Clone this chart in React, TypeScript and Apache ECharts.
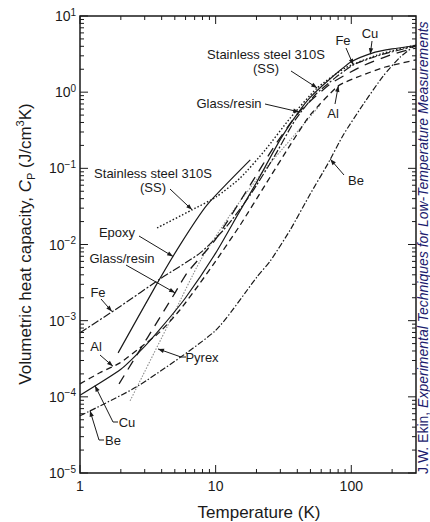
import React, { useEffect, useRef } from "react";
import * as echarts from "echarts";

const FONT = "'Liberation Sans', Arial, Helvetica, sans-serif";
const INK = "#1a1a1a";

// axis ranges
const X_MIN = 1;
const X_MAX = 300;
const Y_MIN = 1e-5;
const Y_MAX = 10;

// tick values and labels
const xMajorTicks = [1, 10, 100];
const xMinorTicks = [2, 3, 4, 5, 6, 7, 8, 9, 20, 30, 40, 50, 60, 70, 80, 90, 200];
const xTickLabels = ["1", "10", "100"];
const yMajorTicks = [1e-5, 1e-4, 1e-3, 1e-2, 1e-1, 1, 10];
const yTickLabels = ["−5", "−4", "−3", "−2", "−1", "0", "1"];
const yMinorMantissas = [2, 3, 4, 5, 6, 7, 8, 9];
const yMinorTicks = yMajorTicks.slice(0, 6).flatMap((d) => yMinorMantissas.map((m) => m * d));

// series (temperature K, volumetric heat capacity J/cm^3K)
const cuT = [1, 2, 3, 4, 6, 10, 15, 20, 30, 40, 50, 70, 100, 150, 200, 300];
const cuC = [1.05e-4, 2.3e-4, 4.6e-4, 8.2e-4, 2.0e-3, 7.7e-3, 0.027, 0.065, 0.24, 0.52, 0.86, 1.5, 2.5, 3.35, 3.7, 4.1];

const feT = [1, 2, 3.9, 7.7, 11.8, 18, 27.5, 38.6, 54, 76, 103.5, 164, 300];
const feC = [6.92e-4, 1.56e-3, 3.54e-3, 7.76e-3, 0.0165, 0.0448, 0.15, 0.432, 0.919, 1.54, 2.28, 3.08, 4.04];

const ssT = [3.7, 6.7, 10.1, 15.2, 23.2, 35.5, 56.1, 90.3, 164, 300];
const ssC = [0.0165, 0.0285, 0.0422, 0.0748, 0.174, 0.459, 1.135, 2.08, 3.17, 4.16];

const alT = [1, 1.4, 1.97, 2.77, 3.89, 5.47, 7.69, 9.92, 15.2, 23.2, 35.5, 49.8, 80.3, 116.5, 178, 300];
const alC = [1.48e-4, 2.07e-4, 2.79e-4, 4.4e-4, 7.13e-4, 1.39e-3, 3.13e-3, 5.91e-3, 0.0181, 0.0605, 0.203, 0.502, 1.21, 1.63, 2.14, 2.65];

const grT = [1.94, 5.02, 6.16, 9.92, 18, 27.5, 41.3, 70, 116.5, 194, 300];
const grC = [1.48e-4, 2.32e-3, 4.24e-3, 0.0115, 0.0605, 0.203, 0.55, 1.28, 2.14, 3.08, 3.8];

const epT = [1.91, 3.58, 5.47, 8.65, 18];
const epC = [3.78e-4, 2.78e-3, 9.9e-3, 0.0331, 0.129];

const pyT = [2.34, 4.86, 7.69, 12.8, 21.3, 35.5, 58.9];
const pyC = [8.87e-5, 1.19e-3, 6.09e-3, 0.0244, 0.0819, 0.236, 0.679];

const beT = [1, 2.68, 9.92, 20.2, 25.3, 35.5, 49.8, 66.5, 87.3, 123, 172, 230, 300];
const beC = [5.63e-5, 1.39e-4, 7.35e-4, 3.76e-3, 6.09e-3, 0.0156, 0.046, 0.111, 0.274, 0.7, 1.63, 2.9, 4.2];

type Ann = {
  lines: string[];
  cx: number;
  cy: number;
  path: number[][];
  tip: number[];
};

// annotation labels; arrow tips are data points on the curves
const annotations: Ann[] = [
  { lines: ["Stainless steel 310S", "(SS)"], cx: 266, cy: 54, path: [[291, 71]], tip: [56.1, 1.135] },
  { lines: ["Glass/resin"], cx: 229, cy: 103, path: [[265, 104]], tip: [41.3, 0.55] },
  { lines: ["Fe"], cx: 343, cy: 40, path: [[346, 48]], tip: [103.5, 2.28] },
  { lines: ["Cu"], cx: 370, cy: 33, path: [[372, 41]], tip: [138, 3.15] },
  { lines: ["Al"], cx: 333, cy: 113, path: [[335, 104]], tip: [80.3, 1.21] },
  { lines: ["Be"], cx: 356, cy: 180, path: [[344, 175]], tip: [70, 0.132] },
  { lines: ["Stainless steel 310S", "(SS)"], cx: 153, cy: 173, path: [[170, 189]], tip: [6.71, 0.0285] },
  { lines: ["Epoxy"], cx: 117, cy: 232, path: [[139, 236]], tip: [4.86, 6.95e-3] },
  { lines: ["Glass/resin"], cx: 122, cy: 258, path: [[126, 265]], tip: [5.02, 2.32e-3] },
  { lines: ["Fe"], cx: 98, cy: 292, path: [[101, 299]], tip: [1.72, 1.32e-3] },
  { lines: ["Al"], cx: 96, cy: 346, path: [[100, 355]], tip: [1.75, 2.52e-4] },
  { lines: ["Cu"], cx: 127, cy: 422, path: [[118, 422], [113, 422]], tip: [1.29, 1.4e-4] },
  { lines: ["Be"], cx: 113, cy: 440, path: [[104, 440], [99, 440]], tip: [1.185, 6.58e-5] },
  { lines: ["Pyrex"], cx: 202, cy: 357, path: [[186, 357], [181, 357]], tip: [3.76, 4.26e-4] },
];

const zip = (t: number[], c: number[]) => t.map((v, i) => [v, c[i]]);

const lineSeries = (name: string, t: number[], c: number[], type: any, color = INK, width = 1.2) => ({
  type: "line",
  name,
  data: zip(t, c),
  showSymbol: false,
  symbol: "none",
  smooth: 0.2,
  silent: true,
  lineStyle: { color, width, type },
  z: 3,
});

const xTickSeries = (vals: number[], len: number) => ({
  type: "custom",
  silent: true,
  z: 6,
  data: vals.map((v) => [v, 1]),
  encode: { x: 0, y: 1 },
  renderItem: (_p: any, api: any) => {
    const v = api.value(0);
    const b = api.coord([v, Y_MIN]);
    const t = api.coord([v, Y_MAX]);
    return {
      type: "group",
      children: [
        { type: "line", shape: { x1: b[0], y1: b[1], x2: b[0], y2: b[1] - len }, style: { stroke: INK, lineWidth: 1 } },
        { type: "line", shape: { x1: t[0], y1: t[1], x2: t[0], y2: t[1] + len }, style: { stroke: INK, lineWidth: 1 } },
      ],
    };
  },
});

const yTickSeries = (vals: number[], len: number) => ({
  type: "custom",
  silent: true,
  z: 6,
  data: vals.map((v) => [2, v]),
  encode: { x: 0, y: 1 },
  renderItem: (_p: any, api: any) => {
    const v = api.value(1);
    const l = api.coord([X_MIN, v]);
    const r = api.coord([X_MAX, v]);
    return {
      type: "group",
      children: [
        { type: "line", shape: { x1: l[0], y1: l[1], x2: l[0] + len, y2: l[1] }, style: { stroke: INK, lineWidth: 1 } },
        { type: "line", shape: { x1: r[0], y1: r[1], x2: r[0] - len, y2: r[1] }, style: { stroke: INK, lineWidth: 1 } },
      ],
    };
  },
});

const isDecade = (v: number) => Math.abs(Math.log10(v) - Math.round(Math.log10(v))) < 1e-6;

export default function App() {
  const ref = useRef<HTMLDivElement>(null);

  useEffect(() => {
    document.body.style.margin = "0";
    if (!ref.current) return;
    const chart = echarts.init(ref.current, undefined, { renderer: "svg" });

    const option: any = {
      animation: false,
      backgroundColor: "#ffffff",
      grid: { left: 80, right: 14, top: 16, bottom: 49, show: true, borderColor: INK, borderWidth: 1.5, backgroundColor: "transparent" },
      xAxis: {
        type: "log",
        logBase: 10,
        min: X_MIN,
        max: X_MAX,
        axisLine: { show: false },
        axisTick: { show: false },
        splitLine: { show: false },
        axisLabel: {
          margin: 6,
          color: INK,
          fontFamily: FONT,
          fontSize: 14,
          showMaxLabel: false,
          formatter: (v: number) => {
            const i = xMajorTicks.findIndex((m) => Math.abs(m - v) < 1e-6 * m);
            return i >= 0 ? xTickLabels[i] : "";
          },
        },
      },
      yAxis: {
        type: "log",
        logBase: 10,
        min: Y_MIN,
        max: Y_MAX,
        axisLine: { show: false },
        axisTick: { show: false },
        splitLine: { show: false },
        axisLabel: {
          margin: 4,
          color: INK,
          formatter: (v: number) => {
            if (!isDecade(v)) return "";
            const i = yMajorTicks.findIndex((m) => Math.abs(m - v) < 1e-6 * m);
            return i >= 0 ? `{b|10}{s|${yTickLabels[i]}}` : "";
          },
          rich: {
            b: { fontSize: 14, fontFamily: FONT, color: INK, lineHeight: 18, verticalAlign: "middle" },
            s: { fontSize: 10, fontFamily: FONT, color: INK, lineHeight: 10, verticalAlign: "top" },
          },
        },
      },
      series: [
        lineSeries("Be", beT, beC, [6, 2, 1.5, 2]),
        lineSeries("Pyrex", pyT, pyC, [1.5, 1.5], "#8c8c8c", 1.1),
        lineSeries("Al", alT, alC, [6, 4], INK, 1.3),
        lineSeries("Glass/resin", grT, grC, [10, 7], INK, 1.3),
        lineSeries("Epoxy", epT, epC, "solid", INK, 1.2),
        lineSeries("Cu", cuT, cuC, "solid", INK, 1.2),
        lineSeries("Fe", feT, feC, [8, 2, 2, 2], INK, 1.2),
        lineSeries("Stainless steel 310S", ssT, ssC, [1.5, 2], INK, 1.4),
        xTickSeries(xMajorTicks, 8),
        xTickSeries(xMinorTicks, 4),
        yTickSeries(yMajorTicks, 8),
        yTickSeries(yMinorTicks, 4),
      ],
    };
    chart.setOption(option);

    const graphics: any[] = [];
    const textStyle = { fontFamily: FONT, fontSize: 13, fill: INK };
    annotations.forEach((a) => {
      a.lines.forEach((ln, k) => {
        graphics.push({
          type: "text",
          x: a.cx,
          y: a.cy + k * 14,
          silent: true,
          style: { ...textStyle, text: ln, align: "center", verticalAlign: "middle" },
          z: 20,
        });
      });
      const tip = chart.convertToPixel({ xAxisIndex: 0, yAxisIndex: 0 }, a.tip) as number[];
      const pts = [...a.path, tip];
      graphics.push({
        type: "polyline",
        silent: true,
        shape: { points: pts },
        style: { stroke: INK, lineWidth: 1, fill: "none" },
        z: 20,
      });
      const prev = pts[pts.length - 2];
      const dx = tip[0] - prev[0];
      const dy = tip[1] - prev[1];
      const len = Math.hypot(dx, dy) || 1;
      const ux = dx / len;
      const uy = dy / len;
      const L = 6;
      const W = 2.2;
      graphics.push({
        type: "polygon",
        silent: true,
        shape: {
          points: [
            tip,
            [tip[0] - ux * L - uy * W, tip[1] - uy * L + ux * W],
            [tip[0] - ux * L + uy * W, tip[1] - uy * L - ux * W],
          ],
        },
        style: { fill: INK, stroke: "none" },
        z: 21,
      });
    });

    // axis titles
    graphics.push({
      type: "text",
      x: 25,
      y: 244,
      rotation: Math.PI / 2,
      silent: true,
      style: {
        text: "{b|Volumetric heat capacity, }{i|C}{sub|P}{b| (J/cm}{sup|3}{b|K)}",
        align: "center",
        verticalAlign: "middle",
        rich: {
          b: { fontFamily: FONT, fontSize: 17, fill: INK, lineHeight: 22, verticalAlign: "middle" },
          i: { fontFamily: FONT, fontSize: 17, fontStyle: "italic", fill: INK, lineHeight: 22, verticalAlign: "middle" },
          sub: { fontFamily: FONT, fontSize: 11, fill: INK, lineHeight: 11, verticalAlign: "bottom" },
          sup: { fontFamily: FONT, fontSize: 11, fill: INK, lineHeight: 11, verticalAlign: "top" },
        },
      },
    });
    graphics.push({
      type: "text",
      x: 259,
      y: 512,
      silent: true,
      style: { text: "Temperature (K)", fontFamily: FONT, fontSize: 17, fill: INK, align: "center", verticalAlign: "middle" },
    });
    // source credit on the right (runs off the top edge as in the source image)
    graphics.push({
      type: "text",
      x: 423,
      y: 474,
      rotation: Math.PI / 2,
      silent: true,
      style: {
        text: "{n|J.W. Ekin, }{i|Experimental Techniques for Low-Temperature Measurements}",
        align: "left",
        verticalAlign: "middle",
        rich: {
          n: { fontFamily: FONT, fontSize: 14, fill: "#1c1c6e" },
          i: { fontFamily: FONT, fontSize: 14, fontStyle: "italic", fill: "#1c1c6e" },
        },
      },
    });

    chart.setOption({ graphic: graphics });

    return () => chart.dispose();
  }, []);

  return <div ref={ref} style={{ width: 430, height: 522 }} />;
}
